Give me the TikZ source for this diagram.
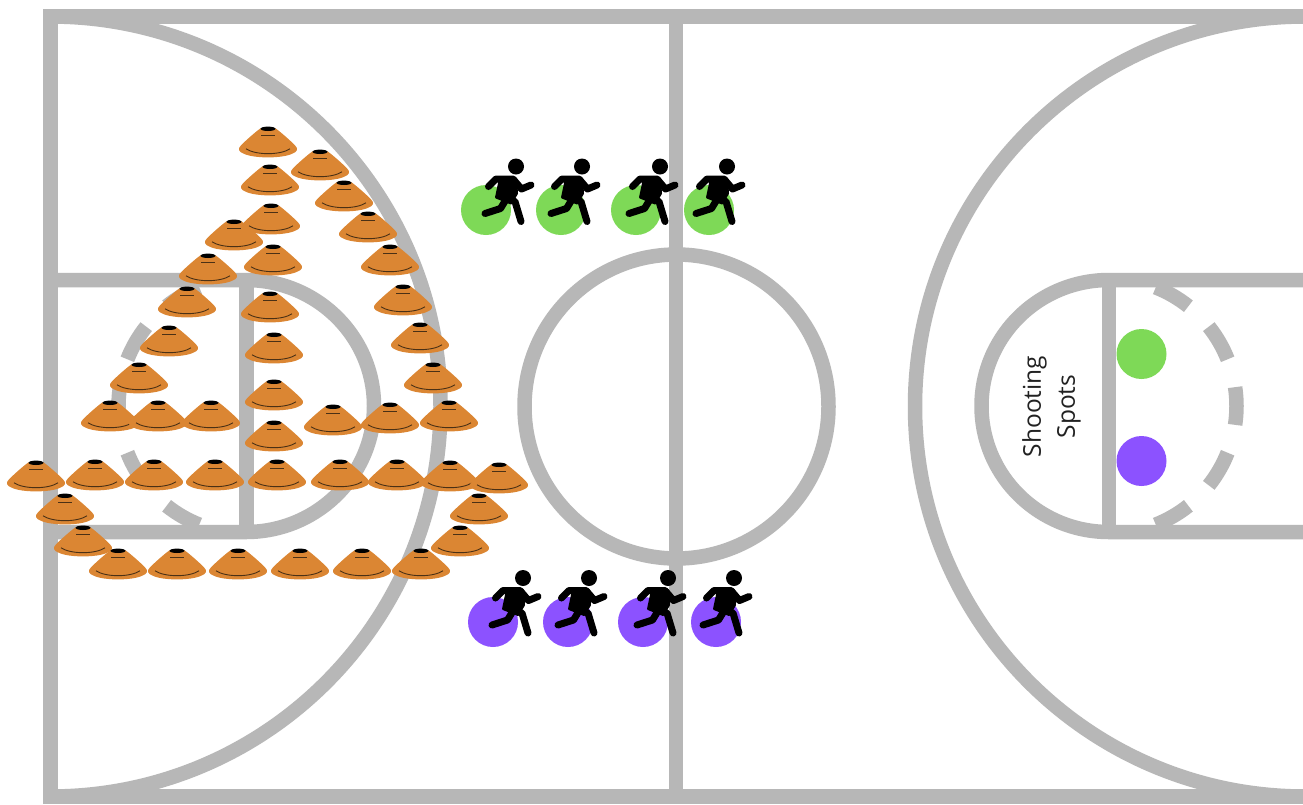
\documentclass[tikz,border=0pt]{standalone}
\usepackage{fontspec}
\setmainfont{Open Sans}
\definecolor{courtgray}{HTML}{B7B7B7}
\definecolor{spotgreen}{HTML}{7ED957}
\definecolor{spotpurple}{HTML}{8C52FF}
\definecolor{coneorange}{HTML}{DB8633}
\definecolor{conedark}{HTML}{4A3015}
\definecolor{labelink}{HTML}{222222}
\tikzset{
  courtline/.style={draw=courtgray,line width=14.5pt},
  spotgreenfill/.style={fill=spotgreen,draw=none},
  spotpurplefill/.style={fill=spotpurple,draw=none},
  limb/.style={draw=black,line width=7pt,line cap=round,line join=round},
  cone/.pic={
    \fill[coneorange] (-7.5,-0.5) .. controls (-13,3.5) and (-22,11.5) .. (-27,16.5) .. controls (-31,20.5) and (-29,23) .. (-24,25)
      .. controls (-14,29.8) and (14,29.8) .. (24,25)
      .. controls (29,23) and (31,20.5) .. (27,16.5) .. controls (22,11.5) and (13,3.5) .. (7.5,-0.5) -- cycle;
    \draw[conedark,line width=0.9pt] (-7,6.5) -- (7,6.5);
    \draw[conedark,line width=0.9pt] (-22,20) .. controls (-12,26.5) and (12,26.5) .. (22,20);
    \fill[black] (0,0) ellipse [x radius=7.5,y radius=2.2];
  },
  runner/.pic={
    \fill[black] (0,0) circle [radius=8];
    \draw[limb] (-27.5,20) -- (-20,12.5) -- (-3,12.5) -- (5.5,22.5) -- (15,18.5);
    \fill[black,draw=black,line width=2pt,line join=round] (-16,12) -- (0,12) -- (1,27) -- (-5,37) -- (-20,31) -- cycle;
    \draw[limb] (-31,47) -- (-15.5,42) -- (-10,33);
    \draw[limb] (-7,33) -- (-1,35) -- (5,55);
  }
}
\begin{document}
\begin{tikzpicture}[x=1pt,y=-1pt]
\useasboundingbox (0,0) rectangle (1303,804);
\fill[white] (0,0) rectangle (1303,804);
% outer court
\draw[courtline] (1330,16.5) -- (50.5,16.5) -- (50.5,796.5) -- (1330,796.5);
\draw[courtline] (676,16.5) -- (676,796.5);
\draw[courtline] (676.5,406.5) circle [radius=152];
% three point arcs
\draw[courtline] (50.5,16.5) arc [start angle=-90,end angle=90,radius=390];
\draw[courtline] (1305,16.5) arc [start angle=-90,end angle=-270,radius=390];
% left key
\draw[courtline] (50.5,280) -- (246,280) arc [start angle=-90,end angle=90,x radius=128,y radius=126] -- (50.5,532);
\draw[courtline] (246.5,280) -- (246.5,532);
\foreach \a in {120,150,180,210,240}
  \draw[courtline] (246,406) ++(\a-8.5:127.5) arc [start angle=\a-8.5,end angle=\a+8.5,radius=127.5];
% right key
\draw[courtline] (1330,280) -- (1109,280) arc [start angle=-90,end angle=-270,x radius=127.5,y radius=126] -- (1330,532);
\draw[courtline] (1109,280) -- (1109,532);
\foreach \a in {-60,-30,0,30,60}
  \draw[courtline] (1109,406) ++(\a-8.5:127.5) arc [start angle=\a-8.5,end angle=\a+8.5,radius=127.5];
% shooting spots
\fill[spotgreenfill] (1141.5,354) circle [radius=25];
\fill[spotpurplefill] (1141.5,461) circle [radius=25];
\node[rotate=90,align=center,text=labelink,font=\fontsize{24.5}{34}\selectfont,inner sep=0pt] (label) at (1051.5,406.5) {Shooting\\Spots};
% cones
\foreach \x/\y in {268/127,320/150,270/165,344/181,271/204,234/220,368/212,273/245,208/254,390/245,270/292,187/287,403/285,274/333,169/326,420/323,139/363,433/363,274/380,110/401,158/401,211/401,333/405,390/403,449/401,274/421,36/461,95/460,154/460,215/460,277/460,340/460,397/460,450/461,499/463,65/494,479/494,83/526,460/526,118/549,177/549,238/549,300/549,362/549,421/549}
  \pic at (\x,\y+1.8) {cone};
% players
\foreach \x in {486,561,636,709} \fill[spotgreenfill] (\x,210) circle [radius=25];
\foreach \x in {493,568,643,716} \fill[spotpurplefill] (\x,622) circle [radius=25];
\foreach \x in {516,582,660,727} \pic at (\x,166.5) {runner};
\foreach \x in {523,589,668,734} \pic at (\x,578) {runner};
\end{tikzpicture}
\end{document}
